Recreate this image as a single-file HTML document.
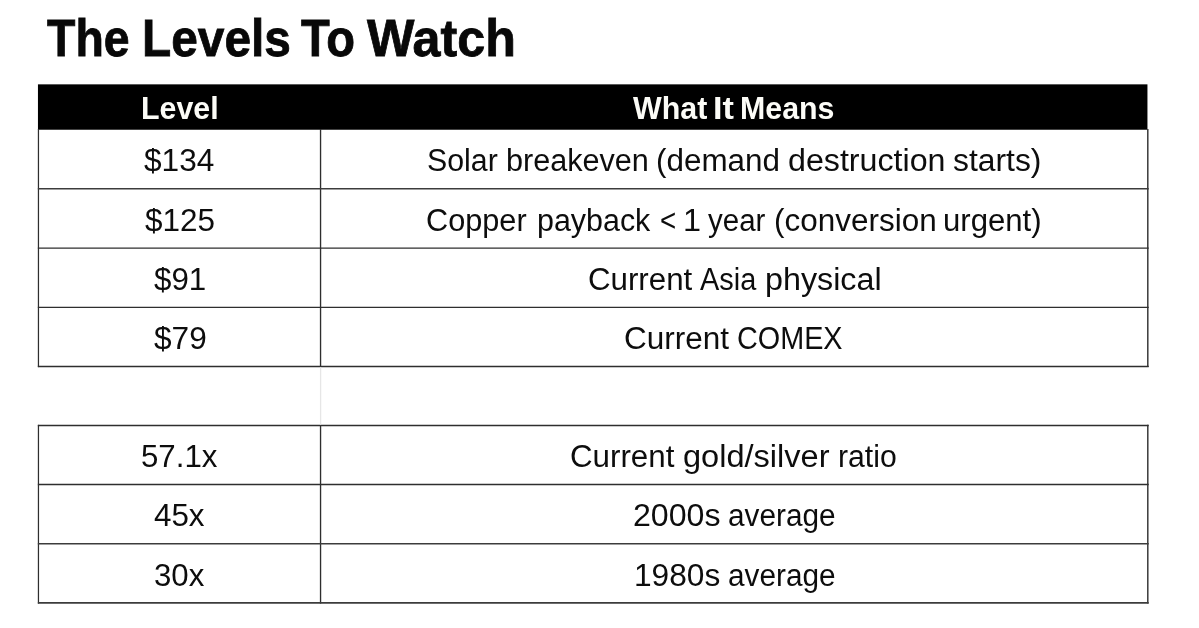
<!DOCTYPE html>
<html lang="en">
<head>
<meta charset="utf-8">
<title>The Levels To Watch</title>
<style>
  html, body { margin: 0; padding: 0; }
  body {
    width: 1199px; height: 628px; overflow: hidden; position: relative;
    background: #ffffff; color: #0d0d0d;
    font-family: "Liberation Sans", Arial, Helvetica, sans-serif;
  }
  .w {
    position: absolute; display: block; white-space: nowrap;
    transform-origin: 0 0;
  }
  h1 {
    position: absolute; left: 0; top: 0; width: 1199px; height: 80px; margin: 0;
    color: #080808; font-size: 52.5px; line-height: 60px; font-weight: 700; -webkit-text-stroke: 0.8px currentColor;
  }
  table {
    position: absolute; left: 38px; width: 1110px;
    border-collapse: collapse; border-spacing: 0; table-layout: fixed;
  }
  #t1 { top: 85px; }
  #t2 { top: 425px; }
  col.c1 { width: 283px; }
  col.c2 { width: 827px; }
  th, td { padding: 0; margin: 0; text-align: left; }
  th { height: 44px; color: #fcfcf7; font-size: 32px; line-height: 44px; font-weight: 700; }
  td { font-size: 31px; line-height: 40px; font-weight: 400; }
  tr.r59 td { height: 59px; }
  tr.r60 td { height: 60px; }
  svg.layer { position: absolute; left: 0; top: 0; }
</style>
</head>
<body>
<svg class="layer" width="1199" height="628" viewBox="0 0 1199 628" aria-hidden="true">
  <rect x="37.95" y="84.35" width="1109.5" height="45.38" fill="#000"/>
</svg>
<h1><span class="w" style="left:46.7px;top:8px;transform:scaleX(0.8850)">The</span> <span class="w" style="left:141.8px;top:8px;transform:scaleX(0.9115)">Levels</span> <span class="w" style="left:301.1px;top:8px;transform:scaleX(0.8961)">To</span> <span class="w" style="left:367.1px;top:8px;transform:scaleX(0.9573)">Watch</span></h1>

<table id="t1">
  <colgroup><col class="c1"><col class="c2"></colgroup>
  <thead>
    <tr><th><span class="w" style="left:103.4px;top:1px;transform:scaleX(0.9489)">Level</span></th>
        <th><span class="w" style="left:595.3px;top:1px;transform:scaleX(0.9505)">What</span> <span class="w" style="left:674.9px;top:1px;transform:scaleX(1.0706)">It</span> <span class="w" style="left:702.3px;top:1px;transform:scaleX(0.9479)">Means</span></th></tr>
  </thead>
  <tbody>
    <tr class="r59"><td><span class="w" style="left:106.4px;top:56px;transform:scaleX(1.0199)">$134</span></td>
        <td><span class="w" style="left:388.8px;top:56px;transform:scaleX(0.9779)">Solar</span> <span class="w" style="left:467.7px;top:56px;transform:scaleX(0.9869)">breakeven</span> <span class="w" style="left:617.6px;top:56px;transform:scaleX(1.0131)">(demand</span> <span class="w" style="left:749.5px;top:56px;transform:scaleX(1.0388)">destruction</span> <span class="w" style="left:914.9px;top:56px;transform:scaleX(1.0270)">starts)</span></td></tr>
    <tr class="r59"><td><span class="w" style="left:106.6px;top:116px;transform:scaleX(1.0148)">$125</span></td>
        <td><span class="w" style="left:388.2px;top:116px;transform:scaleX(0.9895)">Copper</span> <span class="w" style="left:498.9px;top:116px;transform:scaleX(0.9815)">payback</span> <span class="w" style="left:622.0px;top:116px;transform:scaleX(0.8933)">&lt;</span> <span class="w" style="left:645.4px;top:116px;transform:scaleX(1.0444)">1</span> <span class="w" style="left:670.2px;top:116px;transform:scaleX(0.9513)">year</span> <span class="w" style="left:736.0px;top:116px;transform:scaleX(1.0150)">(conversion</span> <span class="w" style="left:905.2px;top:116px;transform:scaleX(1.0037)">urgent)</span></td></tr>
    <tr class="r60"><td><span class="w" style="left:115.7px;top:175px;transform:scaleX(1.0100)">$91</span></td>
        <td><span class="w" style="left:549.5px;top:175px;transform:scaleX(1.0084)">Current</span> <span class="w" style="left:662.2px;top:175px;transform:scaleX(0.9328)">Asia</span> <span class="w" style="left:727.3px;top:175px;transform:scaleX(1.0407)">physical</span></td></tr>
    <tr class="r59"><td><span class="w" style="left:115.7px;top:234px;transform:scaleX(1.0200)">$79</span></td>
        <td><span class="w" style="left:586.0px;top:234px;transform:scaleX(1.0152)">Current</span> <span class="w" style="left:699.3px;top:234px;transform:scaleX(0.9283)">COMEX</span></td></tr>
  </tbody>
</table>

<table id="t2">
  <colgroup><col class="c1"><col class="c2"></colgroup>
  <tbody>
    <tr class="r59"><td><span class="w" style="left:103.2px;top:12px;transform:scaleX(1.0074)">57.1x</span></td>
        <td><span class="w" style="left:532.2px;top:12px;transform:scaleX(1.0093)">Current</span> <span class="w" style="left:644.7px;top:12px;transform:scaleX(1.0497)">gold/silver</span> <span class="w" style="left:800.3px;top:12px;transform:scaleX(0.9737)">ratio</span></td></tr>
    <tr class="r60"><td><span class="w" style="left:116.2px;top:71px;transform:scaleX(1.0113)">45x</span></td>
        <td><span class="w" style="left:594.8px;top:71px;transform:scaleX(1.0361)">2000s</span> <span class="w" style="left:689.5px;top:71px;transform:scaleX(0.9598)">average</span></td></tr>
    <tr class="r59"><td><span class="w" style="left:116.4px;top:131px;transform:scaleX(1.0073)">30x</span></td>
        <td><span class="w" style="left:596.1px;top:131px;transform:scaleX(1.0210)">1980s</span> <span class="w" style="left:689.5px;top:131px;transform:scaleX(0.9598)">average</span></td></tr>
  </tbody>
</table>

<svg class="layer" width="1199" height="628" viewBox="0 0 1199 628" aria-hidden="true">
  <g stroke="#2e2e2e" stroke-width="1.4" fill="none">
    <line x1="38.45" y1="129" x2="38.45" y2="367.1" stroke-width="1.25"/>
    <line x1="320.55" y1="129" x2="320.55" y2="367.1" stroke-width="1.35"/>
    <line x1="1147.8" y1="129" x2="1147.8" y2="367.1" stroke-width="1.5" stroke="#3a3a3a"/>
    <line x1="37.85" y1="188.7" x2="1148.7" y2="188.7" stroke-width="1.6" stroke="#3c3c3c"/>
    <line x1="37.85" y1="248.1" x2="1148.7" y2="248.1" stroke-width="1.35"/>
    <line x1="37.85" y1="307.4" x2="1148.7" y2="307.4"/>
    <line x1="37.85" y1="366.45" x2="1148.7" y2="366.45"/>
    <line x1="38.45" y1="424.85" x2="38.45" y2="603.6" stroke-width="1.25"/>
    <line x1="320.55" y1="424.85" x2="320.55" y2="603.6" stroke-width="1.35"/>
    <line x1="1147.8" y1="424.85" x2="1147.8" y2="603.6" stroke-width="1.5" stroke="#3a3a3a"/>
    <line x1="37.85" y1="425.5" x2="1148.7" y2="425.5" stroke-width="1.3"/>
    <line x1="37.85" y1="484.45" x2="1148.7" y2="484.45"/>
    <line x1="37.85" y1="543.75" x2="1148.7" y2="543.75" stroke-width="1.6" stroke="#3c3c3c"/>
    <line x1="37.85" y1="602.9" x2="1148.7" y2="602.9" stroke-width="1.6" stroke="#3c3c3c"/>
  </g>
  <line x1="320.6" y1="367.2" x2="320.6" y2="424.8" stroke="#e6e6e6" stroke-width="1.3"/>
</svg>
</body>
</html>
